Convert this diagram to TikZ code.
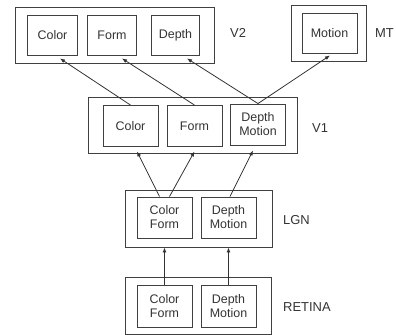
\documentclass[tikz,border=0pt]{standalone}
\usepackage{fontspec}
\setmainfont{Liberation Sans}
\usetikzlibrary{arrows.meta,calc}
\tikzset{
  area/.style={draw=black!75, line width=0.9bp, inner sep=0pt},
  cell/.style={draw=black!75, line width=0.9bp, inner sep=0pt, minimum width=55bp,
    minimum height=41bp, align=center, text=black!80,
    font=\fontsize{12.5}{14}\selectfont},
  tag/.style={anchor=west, inner sep=0pt, text=black!80, font=\fontsize{13}{15}\selectfont},
  conn/.style={draw=black!80, line width=0.8bp, -{Latex[length=5bp,width=4bp]}}
}
\begin{document}
\begin{tikzpicture}[x=1bp, y=-1bp]
  \useasboundingbox (0,0) rectangle (396,335);

  % V2 and MT
  \node [area, minimum width=199bp, minimum height=56bp] (v2) at (114.5, 35) {};
  \node [cell, minimum width=50bp, minimum height=40bp] (v2color) at (52.5, 35) {Color};
  \node [cell, minimum width=49bp, minimum height=40bp] (v2form) at (112, 35) {Form};
  \node [cell, minimum width=48bp, minimum height=40bp] (v2depth) at (175.5, 35) {Depth};
  \node [tag] at (230, 33) {V2};

  \node [area, minimum width=75bp, minimum height=56bp] (mt) at (328.5, 33) {};
  \node [cell, minimum height=40bp] (mtmotion) at (329.5, 33) {Motion};
  \node [tag] at (375, 33) {MT};

  % V1
  \node [area, minimum width=209bp, minimum height=56bp] (v1) at (192.5, 125) {};
  \node [cell] (v1color) at (130.5, 126) {Color};
  \node [cell] (v1form) at (194.5, 126) {Form};
  \node [cell] (v1dm) at (258, 124.5) {Depth\\Motion};
  \node [tag] at (312, 128) {V1};

  % LGN
  \node [area, minimum width=147bp, minimum height=57bp] (lgn) at (198.5, 218.5) {};
  \node [cell] (lgncf) at (164.5, 217.5) {Color\\Form};
  \node [cell] (lgndm) at (228.5, 217.5) {Depth\\Motion};
  \node [tag] at (283, 220) {LGN};

  % RETINA
  \node [area, minimum width=146bp, minimum height=57bp] (ret) at (198, 305.5) {};
  \node [cell, minimum height=42bp] (retcf) at (164.5, 306) {Color\\Form};
  \node [cell, minimum height=42bp] (retdm) at (228.5, 306) {Depth\\Motion};
  \node [tag] at (283, 307) {RETINA};

  % connections
  \draw [conn] (retcf.north) -- (lgn.south -| retcf);
  \draw [conn] (retdm.north) -- (lgn.south -| retdm);

  \draw [conn] ([xshift=-5bp]lgncf.north) -- ([xshift=6.5bp,yshift=2bp]v1.south -| v1color);
  \draw [conn] ([xshift=5bp]lgncf.north) -- ([yshift=2bp]v1.south -| v1form);
  \draw [conn] ([xshift=1.5bp]lgndm.north) -- ([xshift=-5bp,yshift=3bp]v1.south -| v1dm);

  \draw [conn] (v1color.north) -- ([xshift=7.5bp,yshift=-3bp]v2color.south);
  \draw [conn] (v1form.north) -- ([xshift=10bp,yshift=-3bp]v2form.south);
  \draw [conn] (v1dm.north) -- ([xshift=11.5bp,yshift=-3bp]v2depth.south);
  \draw [conn] (v1dm.north) -- ([xshift=0.5bp,yshift=-2bp]mtmotion.south);
\end{tikzpicture}
\end{document}
